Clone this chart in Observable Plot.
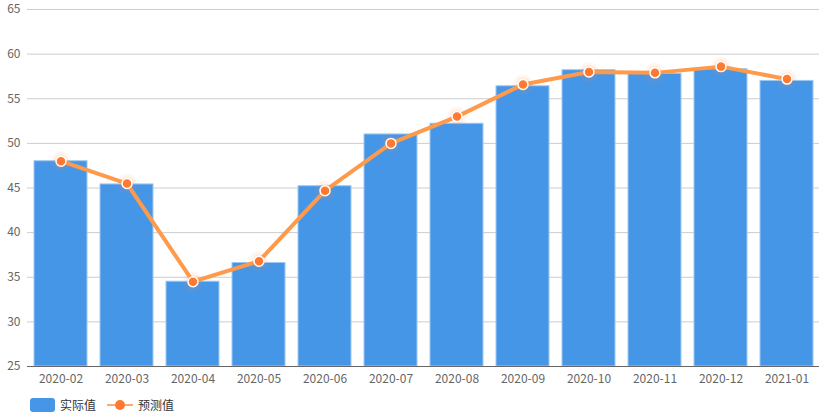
<!DOCTYPE html>
<html>
<head>
<meta charset="utf-8">
<script src="https://cdn.jsdelivr.net/npm/d3@7"></script>
<script src="https://cdn.jsdelivr.net/npm/@observablehq/plot@0.6"></script>
<style>
  body { margin: 0; background: #fff; font-family: "Noto Sans CJK SC", "Noto Sans", sans-serif; }
  #chart { position: relative; width: 821px; }
  .legend { display: flex; align-items: center; height: 25px; padding-left: 30px; font-size: 12px; color: #333; }
  .legend .sw { width: 25px; height: 14px; border-radius: 3px; background: #4696e8; margin-right: 5px; }
  .legend .ln { position: relative; width: 26px; height: 14px; margin: 0 5px 0 11px; }
  .legend .ln::before { content: ""; position: absolute; left: 0; right: 0; top: 6px; height: 2px; background: #ffa878; }
  .legend .ln::after { content: ""; position: absolute; left: 8px; top: 2px; width: 10px; height: 10px; border-radius: 50%; background: #ff7a30; }
</style>
</head>
<body>
<div id="chart"></div>
<script>
const months = ["2020-02","2020-03","2020-04","2020-05","2020-06","2020-07","2020-08","2020-09","2020-10","2020-11","2020-12","2021-01"];
const actual = [48.0, 45.4, 34.5, 36.6, 45.2, 51.0, 52.2, 56.4, 58.2, 57.8, 58.3, 57.0];
const forecast = [48.0, 45.5, 34.5, 36.8, 44.7, 50.0, 53.0, 56.6, 58.0, 57.9, 58.6, 57.2];
const yTicks = [25, 30, 35, 40, 45, 50, 55, 60, 65];
const seriesNames = ["实际值", "预测值"];

const data = months.map((m, i) => ({month: m, actual: actual[i], forecast: forecast[i]}));

const plot = Plot.plot({
  width: 821,
  height: 392,
  marginLeft: 27,
  marginRight: 2,
  marginTop: 9,
  marginBottom: 26,
  style: {fontFamily: '"Noto Sans CJK SC", "Noto Sans", sans-serif', fontSize: "12px", color: "#666", background: "#fff"},
  x: {domain: months, paddingInner: 0.2, paddingOuter: 0.1, label: null},
  y: {domain: [25, 65], label: null},
  marks: [
    Plot.ruleY(yTicks, {stroke: "#cccccc", strokeWidth: 1}),
    Plot.barY(data, {x: "month", y1: 25, y2: "actual", fill: "#4696e8", stroke: "#9ec8f3", strokeWidth: 1}),
    Plot.ruleY([25], {stroke: "#666", strokeWidth: 1}),
    Plot.line(data, {x: "month", y: "forecast", stroke: "#ff9a4a", strokeWidth: 4, curve: "linear"}),
    Plot.dot(data, {x: "month", y: "forecast", r: 10, fill: "#ff8a40", fillOpacity: 0.08, stroke: "none"}),
    Plot.dot(data, {x: "month", y: "forecast", r: 7, fill: "#ff8a40", fillOpacity: 0.12, stroke: "none"}),
    Plot.dot(data, {x: "month", y: "forecast", r: 5, fill: "#ff7a30", stroke: "#fff", strokeWidth: 1.5}),
    Plot.axisX({tickSize: 0, tickPadding: 8, fill: "#666", fontSize: 12}),
    Plot.axisY(yTicks, {tickSize: 0, tickPadding: 7, fill: "#666", fontSize: 12})
  ]
});
document.getElementById("chart").appendChild(plot);

const legend = document.createElement("div");
legend.className = "legend";
legend.innerHTML = `<span class="sw"></span><span>${seriesNames[0]}</span><span class="ln"></span><span>${seriesNames[1]}</span>`;
document.getElementById("chart").appendChild(legend);
</script>
</body>
</html>
